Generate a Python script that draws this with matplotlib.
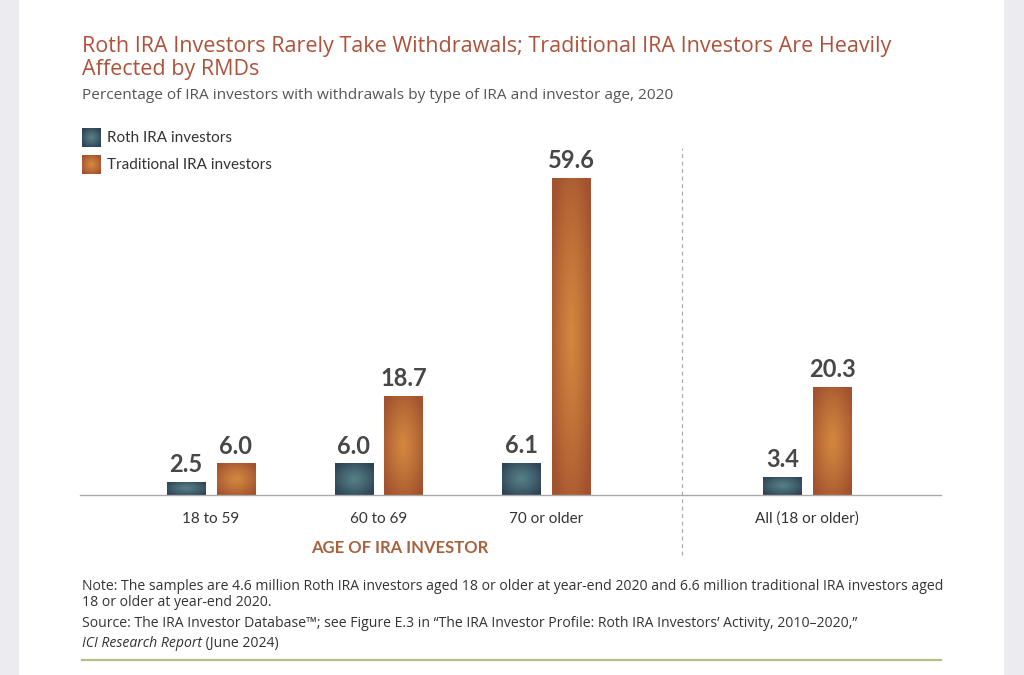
import numpy as np
import matplotlib
matplotlib.use("Agg")
import matplotlib.pyplot as plt
from matplotlib.patches import Rectangle
from matplotlib.colors import to_rgb

# ---- data ----
categories = ["18 to 59", "60 to 69", "70 or older", "All (18 or older)"]
roth = [2.5, 6.0, 6.1, 3.4]
traditional = [6.0, 18.7, 59.6, 20.3]
series_names = ["Roth IRA investors", "Traditional IRA investors"]
title_lines = ["Roth IRA Investors Rarely Take Withdrawals; Traditional IRA Investors Are Heavily",
               "Affected by RMDs"]
subtitle = "Percentage of IRA investors with withdrawals by type of IRA and investor age, 2020"
xlabel = "AGE OF IRA INVESTOR"
note1 = "Note: The samples are 4.6 million Roth IRA investors aged 18 or older at year-end 2020 and 6.6 million traditional IRA investors aged"
note2 = "18 or older at year-end 2020."
source1 = "Source: The IRA Investor Database\u2122; see Figure E.3 in \u201cThe IRA Investor Profile: Roth IRA Investors\u2019 Activity, 2010\u20132020,\u201d"
source2_it = "ICI Research Report"
source2_rest = " (June 2024)"

plt.rcParams['font.family'] = ['Lato', 'DejaVu Sans']
TEXT_FONT = ['Open Sans', 'DejaVu Sans']

W, H = 1024, 675
fig = plt.figure(figsize=(W / 100, H / 100), dpi=100)
fig.patch.set_facecolor("white")

def fx(px):
    return px / W

def fy(py):
    return 1 - py / H

# page side strips
fig.patches.append(Rectangle((0, 0), fx(19), 1, transform=fig.transFigure,
                             facecolor="#ECECF0", edgecolor="none", zorder=0))
fig.patches.append(Rectangle((fx(1004), 0), fx(20), 1, transform=fig.transFigure,
                             facecolor="#ECECF0", edgecolor="none", zorder=0))

# axes
ax_l, ax_r, ax_b, ax_t = 80, 941, 495, 130
ax = fig.add_axes([fx(ax_l), fy(ax_b), fx(ax_r - ax_l), (ax_b - ax_t) / H])
ax.set_facecolor("none")

pos = np.array([0, 1, 2, 3.56])
bw = 0.227
off = 0.149
roth_c, roth_e = "#557F86", "#2E4255"
trad_c, trad_e = "#D2873F", "#A3522F"
roth_mid, trad_mid = "#3E5A68", "#BC6A36"

b1 = ax.bar(pos - off, roth, bw, color=roth_mid, zorder=2)
b2 = ax.bar(pos + off, traditional, bw, color=trad_mid, zorder=2)

def gradient_img(cc, ce, nx=40, ny=120):
    U, V = np.meshgrid(np.linspace(-1, 1, nx), np.linspace(-1, 1, ny))
    r = np.clip(np.sqrt(U ** 2 + V ** 2) / 1.25, 0, 1) ** 1.2
    cc = np.array(to_rgb(cc)); ce = np.array(to_rgb(ce))
    return cc[None, None, :] * (1 - r[..., None]) + ce[None, None, :] * r[..., None]

def gradient_fill(patch, cc, ce):
    x0, y0 = patch.get_x(), patch.get_y()
    w, h = patch.get_width(), patch.get_height()
    im = ax.imshow(gradient_img(cc, ce), extent=[x0, x0 + w, y0, y0 + h], aspect="auto",
                   origin="lower", zorder=2.5, interpolation="bilinear")
    im.set_clip_path(patch)

for p in b1:
    gradient_fill(p, roth_c, roth_e)
for p in b2:
    gradient_fill(p, trad_c, trad_e)

for bars in (b1, b2):
    ax.bar_label(bars, labels=[f"{v:.1f}" for v in bars.datavalues], padding=4,
                 fontsize=17, fontweight="bold", color="#474747")

ax.set_xlim(-(211 - ax_l) / 167.5, (ax_r - 211) / 167.5)
ax.set_ylim(0, (ax_b - ax_t) / 5.32)

for s in ("top", "right", "left"):
    ax.spines[s].set_visible(False)
ax.spines["bottom"].set_color("#AAAAAA")
ax.spines["bottom"].set_linewidth(1)
ax.set_yticks([])
ax.set_xticks(pos, categories)
ax.tick_params(axis="x", length=0, pad=12, labelsize=11, labelcolor="#333333")

# dashed separator
xd = (682 - 211) / 167.5
ax.plot([xd, xd], [-(555 - ax_b) / 5.32, (ax_b - 148) / 5.32], ls=(0, (3, 3)),
        color="#AAAAAA", lw=0.9, clip_on=False, zorder=1)

# x-axis title
fig.text(fx(400), fy(548), xlabel, ha="center", va="center", fontsize=12,
         fontweight="bold", color="#A8613C")

# legend (manual, gradient swatches)
for i, (name, cc, ce) in enumerate([(series_names[0], roth_c, roth_e),
                                    (series_names[1], trad_c, trad_e)]):
    top = 128 + i * 27.5
    fig.figimage((gradient_img(cc, ce, 19, 19) * 255).astype(np.uint8),
                 xo=82, yo=H - top - 19, zorder=3)
    fig.text(fx(107), fy(top + 9.5), name, fontsize=11, va="center", ha="left",
             color="#333333")

# helper to fit text width
fig.canvas.draw()
renderer = fig.canvas.get_renderer()

def fitted_text(x, y, s, target_w, size, **kw):
    t = fig.text(fx(x), fy(y), s, fontsize=size, va="baseline", ha="left",
                 family=TEXT_FONT, **kw)
    for _ in range(3):
        wpx = t.get_window_extent(renderer).width
        t.set_fontsize(t.get_fontsize() * target_w / wpx)
    return t

tt = fitted_text(82, 52, title_lines[0], 808, 15, color="#B0513A")
ts = tt.get_fontsize()
fig.text(fx(82), fy(75), title_lines[1], fontsize=ts, va="baseline", color="#B0513A",
         family=TEXT_FONT)
fitted_text(82, 99, subtitle, 593, 11, color="#555555")

tn = fitted_text(82, 590, note1, 859, 9.5, color="#333333")
ns = tn.get_fontsize()
fig.text(fx(82), fy(606), note2, fontsize=ns, va="baseline", color="#333333", family=TEXT_FONT)
fig.text(fx(82), fy(627), source1, fontsize=ns, va="baseline", color="#333333", family=TEXT_FONT)
ti = fig.text(fx(82), fy(647), source2_it, fontsize=ns, va="baseline",
              color="#333333", style="italic", family=TEXT_FONT)
wi = ti.get_window_extent(renderer).width
fig.text(fx(82) + wi / W, fy(647), source2_rest, fontsize=ns, va="baseline",
         color="#333333", family=TEXT_FONT)

# green rule
fig.add_artist(plt.Line2D([fx(82), fx(941)], [fy(660), fy(660)], color="#B4BF8C", lw=1.6))

fig.savefig("out.png", dpi=100, facecolor="white")
